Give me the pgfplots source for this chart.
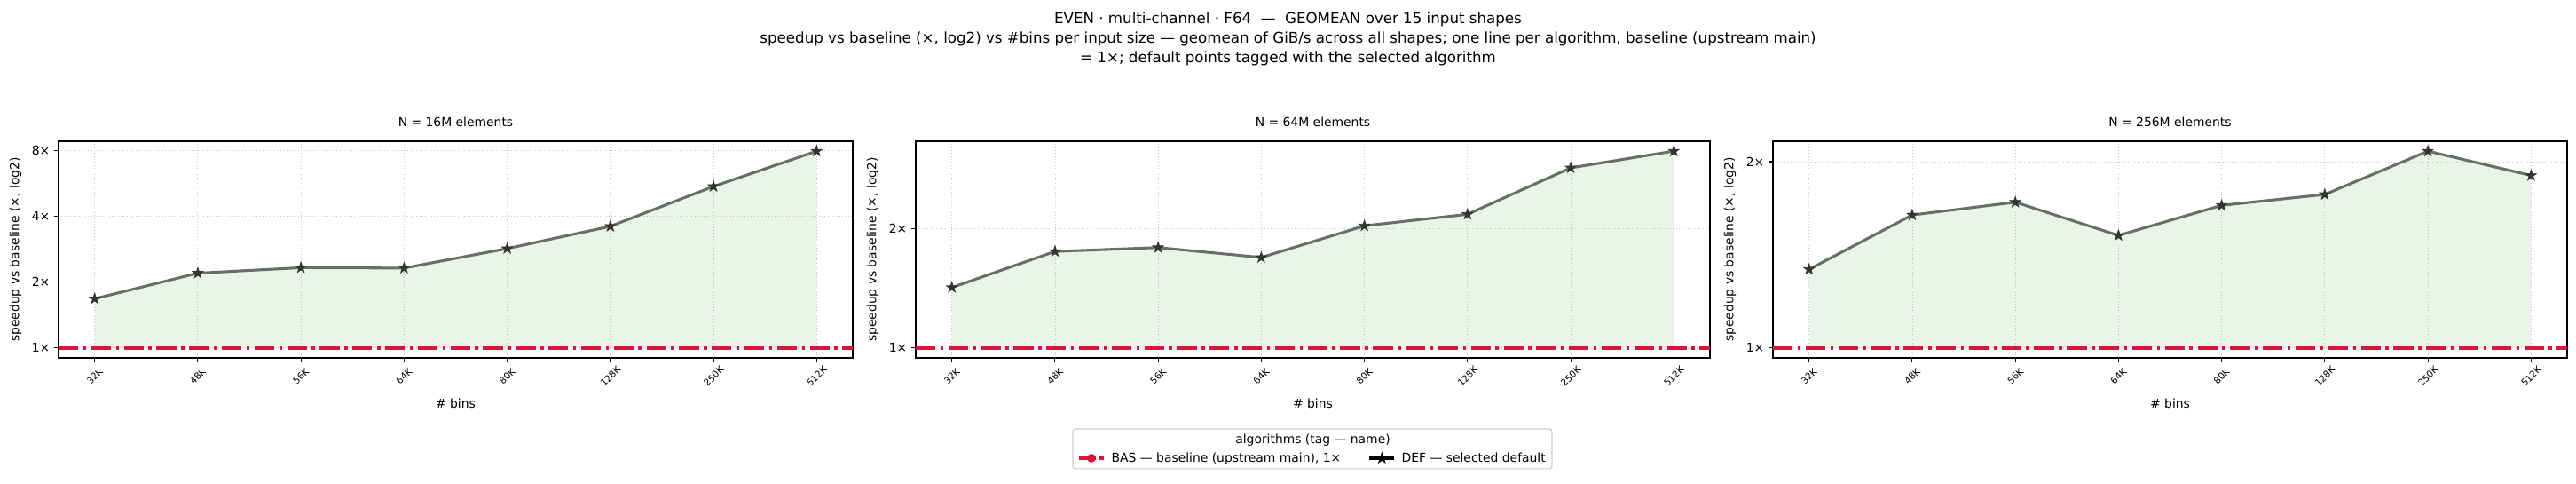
\documentclass[border=0pt]{standalone}
\usepackage{fontspec}
\setmainfont{DejaVu Sans}
\usepackage{pgfplots}
\pgfplotsset{compat=1.18}

\definecolor{crim}{RGB}{220,20,60}
\definecolor{tgreen}{RGB}{44,160,44}
\definecolor{lineg}{RGB}{105,110,105}
\definecolor{stard}{RGB}{51,51,51}

\pgfdeclareplotmark{fstar}{%
 \pgfpathmoveto{\pgfpointpolar{90}{\pgfplotmarksize}}%
 \pgfpathlineto{\pgfpointpolar{126}{0.382\pgfplotmarksize}}%
 \pgfpathlineto{\pgfpointpolar{162}{\pgfplotmarksize}}%
 \pgfpathlineto{\pgfpointpolar{198}{0.382\pgfplotmarksize}}%
 \pgfpathlineto{\pgfpointpolar{234}{\pgfplotmarksize}}%
 \pgfpathlineto{\pgfpointpolar{270}{0.382\pgfplotmarksize}}%
 \pgfpathlineto{\pgfpointpolar{306}{\pgfplotmarksize}}%
 \pgfpathlineto{\pgfpointpolar{342}{0.382\pgfplotmarksize}}%
 \pgfpathlineto{\pgfpointpolar{18}{\pgfplotmarksize}}%
 \pgfpathlineto{\pgfpointpolar{54}{0.382\pgfplotmarksize}}%
 \pgfpathclose
 \pgfusepathqfillstroke}

\newcommand{\ften}{\fontsize{10}{12}\selectfont}

\pgfplotsset{
 every axis/.append style={
  scale only axis, width=644.4pt, height=175.68pt,
  ymode=log, log basis y=2,
  xmin=-0.35, xmax=7.35,
  xtick={0,...,7},
  xticklabels={32K,48K,56K,64K,80K,128K,250K,512K},
  tick pos=left, tick align=outside,
  major tick length=3.5pt,
  yminorticks=false,
  every tick/.style={black, line width=0.8pt},
  axis line style={line width=0.8pt},
  grid=major, major grid style={black!22, dotted, line width=0.6pt},
  xticklabel style={font=\fontsize{7.5}{9}\selectfont, yshift=-11.5pt, rotate=45, anchor=center},
  yticklabel style={font=\ften},
  xlabel={\# bins}, ylabel={speedup vs baseline (×, log2)},
  xlabel style={at={(axis description cs:0.5,-0.2307)}, anchor=base, font=\ften},
  ylabel style={at={(axis description cs:-0.0541,0.5)}, anchor=center, font=\ften},
  title style={at={(0.5,1)}, anchor=base, yshift=6pt, font=\ften},
 },
 fillst/.style={draw=none, fill=tgreen, fill opacity=0.1, forget plot},
 basest/.style={crim, line width=2.5pt, dash pattern=on 16pt off 4pt on 2.5pt off 4pt, forget plot},
 defst/.style={lineg, line width=2.2pt, mark=fstar, mark size=4.6pt,
   mark options={fill=stard, draw=stard, line width=0.5pt, solid}, forget plot},
}

\begin{document}
\begin{tikzpicture}
\path[use as bounding box] (0,0) rectangle (2090.16pt,391.68pt);

\node[anchor=base, font=\fontsize{12}{14}\selectfont] at (1045.08pt,372.5pt)
 {EVEN · multi-channel · F64\ \ —\ \ GEOMEAN over 15 input shapes};
\node[anchor=base, font=\fontsize{12}{14}\selectfont] at (1045.08pt,356.4pt)
 {speedup vs baseline (×, log2) vs \#bins per input size — geomean of GiB/s across all shapes; one line per algorithm, baseline (upstream main)};
\node[anchor=base, font=\fontsize{12}{14}\selectfont] at (1045.08pt,340.6pt)
 {= 1×; default points tagged with the selected algorithm};

% Panel 1: N = 16M
\begin{axis}[at={(47.52pt,101.52pt)}, anchor=south west,
  ymin=0.9015, ymax=8.82,
  ytick={1,2,4,8}, yticklabels={1×,2×,4×,8×},
  title={N = 16M elements}]
\addplot[fillst] coordinates {(0,1) (0,1.68) (1,2.20) (2,2.33) (3,2.32) (4,2.85) (5,3.60) (6,5.48) (7,7.95) (7,1)};
\addplot[basest] coordinates {(-0.35,1) (7.35,1)};
\addplot[defst] coordinates {(0,1.68) (1,2.20) (2,2.33) (3,2.32) (4,2.85) (5,3.60) (6,5.48) (7,7.95)};
\end{axis}

% Panel 2: N = 64M
\begin{axis}[at={(743.04pt,101.52pt)}, anchor=south west, clip=false,
  ymin=0.9446, ymax=3.314,
  ytick={1,2}, yticklabels={1×,2×},
  title={N = 64M elements},
  legend columns=2,
  legend style={at={(axis description cs:0.5,-0.463)}, anchor=center, draw=none, fill=none,
    font=\ften, inner sep=0pt,
    /tikz/every even column/.append style={column sep=20pt},
    /tikz/every odd column/.append style={column sep=3pt}}]
\addplot[fillst] coordinates {(0,1) (0,1.42) (1,1.75) (2,1.79) (3,1.69) (4,2.03) (5,2.17) (6,2.84) (7,3.13) (7,1)};
\addplot[basest] coordinates {(-0.35,1) (7.35,1)};
\addplot[defst] coordinates {(0,1.42) (1,1.75) (2,1.79) (3,1.69) (4,2.03) (5,2.17) (6,2.84) (7,3.13)};
\addlegendimage{legend image code/.code={
  \draw[crim, line width=2.5pt, dash pattern=on 9pt off 2.5pt on 2pt off 2.5pt] (0pt,0pt)--(20pt,0pt);
  \fill[crim] (10pt,0pt) circle (3.3pt);}}
\addlegendentry{BAS — baseline (upstream main), 1×}
\addlegendimage{legend image code/.code={
  \draw[black, line width=2.2pt] (0pt,0pt)--(20pt,0pt);
  \draw[black] plot[only marks, mark=fstar, mark size=4.6pt, mark options={fill=black, line width=0.5pt}] coordinates {(10pt,0pt)};}}
\addlegendentry{DEF — selected default}
\node[font=\ften, anchor=base] at (axis description cs:0.5,-0.3975) {algorithms (tag — name)};
\draw[black!20, line width=0.8pt, rounded corners=2pt] (axis description cs:0.1978,-0.328) rectangle (axis description cs:0.8011,-0.512);
\end{axis}

% Panel 3: N = 256M
\begin{axis}[at={(1438.56pt,101.52pt)}, anchor=south west,
  ymin=0.964, ymax=2.158,
  ytick={1,2}, yticklabels={1×,2×},
  title={N = 256M elements}]
\addplot[fillst] coordinates {(0,1) (0,1.34) (1,1.64) (2,1.72) (3,1.52) (4,1.70) (5,1.77) (6,2.08) (7,1.90) (7,1)};
\addplot[basest] coordinates {(-0.35,1) (7.35,1)};
\addplot[defst] coordinates {(0,1.34) (1,1.64) (2,1.72) (3,1.52) (4,1.70) (5,1.77) (6,2.08) (7,1.90)};
\end{axis}
\end{tikzpicture}
\end{document}
